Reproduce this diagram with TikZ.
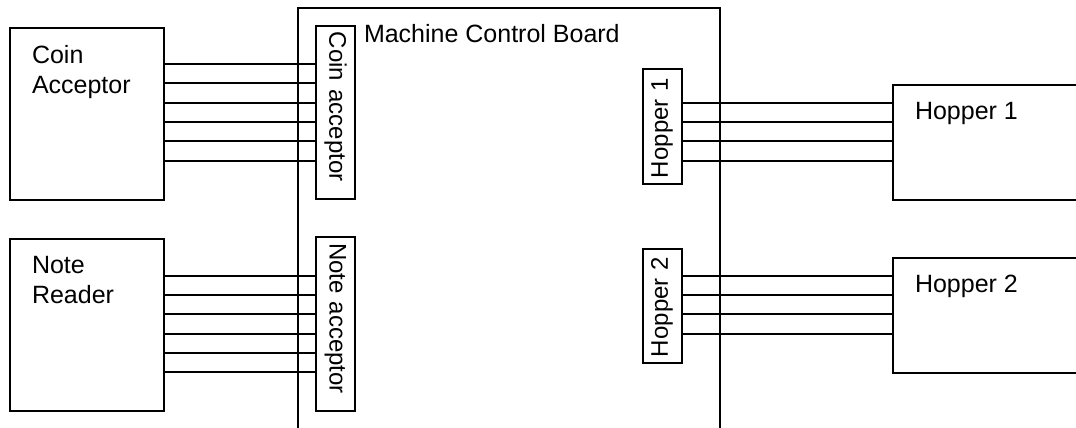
\documentclass[tikz,border=0pt]{standalone}
\usepackage{fontspec}
\setmainfont{Liberation Sans}
\begin{document}
\begin{tikzpicture}[x=1pt,y=-1pt,line width=2pt,
    every node/.style={font=\fontsize{25}{30}\selectfont},
    unit/.style={draw,rectangle,inner sep=0pt,anchor=north west},
    port/.style={draw,rectangle,inner ysep=0pt,inner xsep=6pt,minimum height=39pt,align=left,font=\fontsize{24}{28}\selectfont},
    tag/.style={anchor=base west,inner sep=0pt,align=left}]
    \useasboundingbox (0,0) rectangle (1076,428);
    \clip (0,0) rectangle (1076,428);
    \node[unit,minimum width=422pt,minimum height=440pt] (board) at (297,7) {};
    \node[tag] at (363,43) {Machine Control Board};
    \node[unit,minimum width=154pt,minimum height=172pt] (coin) at (9,27) {};
    \node[tag] at (31,93) {Coin\\Acceptor};
    \node[unit,minimum width=154pt,minimum height=172pt] (note) at (9,238) {};
    \node[tag] at (31,303) {Note\\Reader};
    \node[unit,minimum width=200pt,minimum height=115pt] (hopper1) at (892,84) {};
    \node[tag] at (914,119) {Hopper 1};
    \node[unit,minimum width=200pt,minimum height=115pt] (hopper2) at (892,257) {};
    \node[tag] at (914,292) {Hopper 2};
    \node[port,rotate=-90,text width=161pt] (coinport) at (335.5,112.5) {Coin acceptor};
    \node[port,rotate=-90,text width=162pt] (noteport) at (335.5,324) {Note acceptor};
    \node[port,rotate=90,text width=103pt] (hopper1port) at (662,126.5) {Hopper 1};
    \node[port,rotate=90,text width=102pt] (hopper2port) at (662,306) {Hopper 2};
    \foreach \y in {64,83,103,122,141,161}
        \draw (coin.east |- 0,\y) -- (coinport.south |- 0,\y);
    \foreach \y in {276,295,314,334,353,372}
        \draw (note.east |- 0,\y) -- (noteport.south |- 0,\y);
    \foreach \y in {103,122,141,161}
        \draw (hopper1port.south |- 0,\y) -- (hopper1.west |- 0,\y);
    \foreach \y in {276,295,314,334}
        \draw (hopper2port.south |- 0,\y) -- (hopper2.west |- 0,\y);
\end{tikzpicture}
\end{document}
